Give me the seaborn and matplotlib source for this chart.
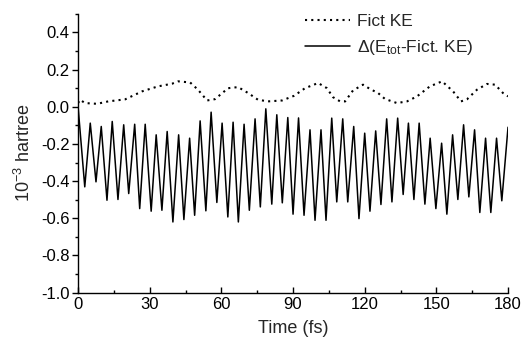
import matplotlib
matplotlib.use("Agg")
import matplotlib.pyplot as plt
import matplotlib.ticker as mticker
import numpy as np
import pandas as pd
import seaborn as sns

# ---- data ----
# Fictitious kinetic energy (dotted), 10^-3 hartree
fict_t = [0.0, 0.8, 2.9, 8.0, 12.6, 19.7, 26.8, 33.5, 39.3, 41.9, 46.9, 50.2, 54.0,
          57.3, 62.8, 67.0, 71.2, 75.3, 79.5, 85.4, 90.4, 95.0, 100.5, 104.2, 106.7,
          109.7, 111.8, 115.1, 119.3, 122.2, 125.6, 128.5, 133.5, 137.7, 141.9, 147.3,
          152.4, 157.0, 160.3, 162.8, 167.0, 171.2, 174.6, 177.9, 180.0]
fict_v = [0.02, 0.038, 0.02, 0.016, 0.029, 0.04, 0.083, 0.11, 0.124, 0.137, 0.131, 0.092,
          0.034, 0.041, 0.10, 0.106, 0.074, 0.038, 0.029, 0.034, 0.059, 0.10, 0.128, 0.10,
          0.052, 0.029, 0.029, 0.088, 0.119, 0.096, 0.074, 0.042, 0.02, 0.029, 0.056,
          0.11, 0.137, 0.083, 0.029, 0.04, 0.092, 0.123, 0.119, 0.074, 0.056]

# Delta(E_tot - Fict. KE) (solid): start, maxima and minima of the oscillation
start_t = [0.0]
start_v = [0.0]
peak_t = [5.1, 9.7, 14.3, 19.1, 23.7, 28.1, 32.7, 37.3, 42.1, 46.7, 51.1, 55.7, 60.3,
          64.9, 69.5, 74.1, 78.6, 83.2, 87.8, 92.3, 97.1, 101.7, 106.2, 110.8, 115.4,
          120.0, 124.6, 129.2, 133.8, 138.3, 142.8, 147.4, 152.2, 156.8, 161.4, 166.0,
          170.6, 175.2, 180.0]
peak_v = [-0.088, -0.106, -0.079, -0.097, -0.094, -0.094, -0.151, -0.133, -0.151, -0.169,
          -0.076, -0.029, -0.088, -0.083, -0.094, -0.065, -0.011, -0.043, -0.058, -0.06,
          -0.124, -0.124, -0.061, -0.065, -0.106, -0.142, -0.13, -0.065, -0.061, -0.088,
          -0.088, -0.169, -0.196, -0.151, -0.097, -0.124, -0.169, -0.169, -0.11]
trough_t = [2.8, 7.5, 12.1, 16.7, 21.2, 25.8, 30.6, 35.1, 39.7, 44.3, 48.8, 53.5, 58.1,
            62.7, 67.1, 71.7, 76.3, 81.1, 85.5, 90.0, 94.6, 99.2, 103.8, 108.3, 112.9,
            117.6, 122.2, 126.8, 131.4, 136.1, 140.6, 145.2, 149.8, 154.4, 159.0, 163.6,
            168.2, 172.8, 177.4]
trough_v = [-0.431, -0.404, -0.503, -0.499, -0.467, -0.548, -0.562, -0.557, -0.62, -0.607,
            -0.584, -0.56, -0.515, -0.593, -0.62, -0.557, -0.539, -0.524, -0.517, -0.578,
            -0.584, -0.611, -0.611, -0.512, -0.512, -0.602, -0.562, -0.526, -0.512, -0.472,
            -0.499, -0.524, -0.548, -0.578, -0.499, -0.485, -0.569, -0.569, -0.506]

x_ticks = [0, 30, 60, 90, 120, 150, 180]
y_ticks = [-1.0, -0.8, -0.6, -0.4, -0.2, 0.0, 0.2, 0.4]

# ---- tables ----
fict_df = pd.DataFrame({"t": fict_t, "v": fict_v})
delta_df = pd.DataFrame({
    "t": start_t + peak_t + trough_t,
    "v": start_v + peak_v + trough_v,
}).sort_values("t")

# ---- style ----
sns.set_theme(style="ticks")
plt.rcParams["font.family"] = ["Liberation Sans", "DejaVu Sans"]
plt.rcParams["mathtext.fontset"] = "custom"
plt.rcParams["mathtext.rm"] = "Liberation Sans"
plt.rcParams["mathtext.it"] = "Liberation Sans"
plt.rcParams["mathtext.default"] = "regular"

fig = plt.figure(figsize=(5.24, 3.39), dpi=100)
ax = fig.add_axes([0.149, 0.137, 0.8205, 0.822])

sns.lineplot(data=fict_df, x="t", y="v", ax=ax, color="black", sort=False,
             estimator=None, linewidth=1.5, linestyle=(0, (1, 2.0)), label="Fict KE")
sns.lineplot(data=delta_df, x="t", y="v", ax=ax, color="black", sort=False,
             estimator=None, linewidth=1.1, label=r"$\Delta$(E$_{tot}$-Fict. KE)")
for ln in ax.get_lines():
    ln.set_solid_joinstyle("round")

ax.set_xlim(0, 180)
ax.set_ylim(-1.0, 0.5)
ax.set_xticks(x_ticks)
ax.set_yticks(y_ticks)
ax.set_xticklabels([str(v) for v in x_ticks])
ax.set_yticklabels([f"{v:.1f}" for v in y_ticks])
ax.xaxis.set_minor_locator(mticker.MultipleLocator(15))
ax.yaxis.set_minor_locator(mticker.MultipleLocator(0.1))
ax.tick_params(axis="x", which="major", direction="in", length=4, width=1,
               labelsize=12, colors="black", pad=3)
ax.tick_params(axis="x", which="minor", direction="in", length=2.5, width=1,
               colors="black")
ax.tick_params(axis="y", which="major", direction="out", length=4, width=1,
               labelsize=12, colors="black", pad=2)
ax.tick_params(axis="y", which="minor", direction="out", length=2.5, width=1,
               colors="black")
for side in ["top", "right"]:
    ax.spines[side].set_visible(False)
for side in ["left", "bottom"]:
    ax.spines[side].set_color("black")
    ax.spines[side].set_linewidth(1)

ax.set_xlabel("Time (fs)", fontsize=13, labelpad=6)
ax.set_ylabel(r"10$^{-3}$ hartree", fontsize=13, labelpad=5)

leg = ax.legend(loc="upper left", frameon=False, fontsize=12.5, handlelength=2.6,
                handletextpad=0.4, borderaxespad=0.0, labelspacing=0.5,
                bbox_to_anchor=(0.528, 1.0), borderpad=0.0)

fig.savefig("out.png", dpi=100)
